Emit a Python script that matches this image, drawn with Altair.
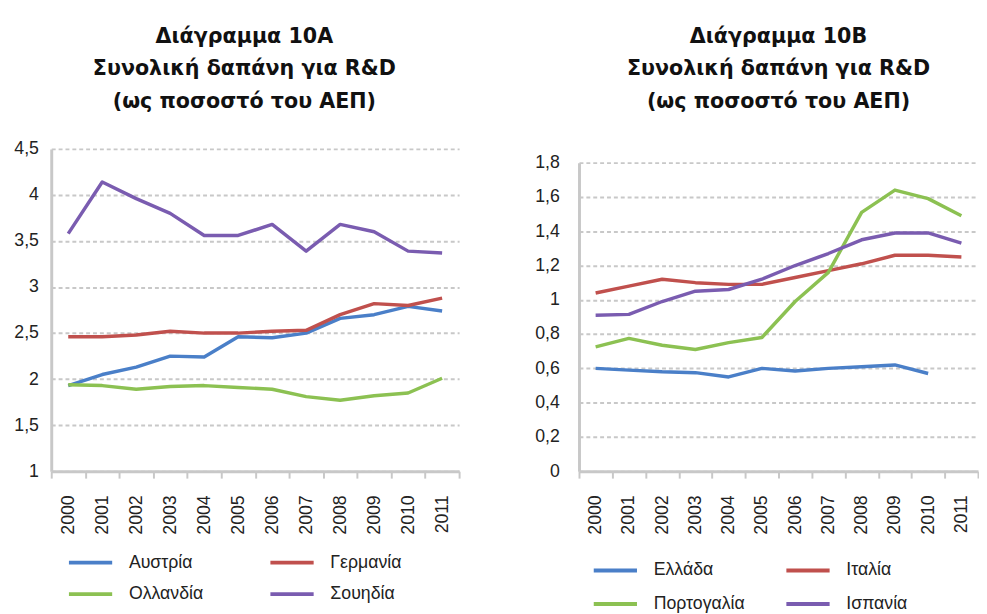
import altair as alt
import pandas as pd

years = [str(y) for y in range(2000, 2012)]

# Chart 10A
austria = [1.93, 2.05, 2.13, 2.25, 2.24, 2.46, 2.45, 2.50, 2.66, 2.70, 2.79, 2.74]
germany = [2.46, 2.46, 2.48, 2.52, 2.50, 2.50, 2.52, 2.53, 2.70, 2.82, 2.80, 2.88]
netherlands = [1.94, 1.93, 1.89, 1.92, 1.93, 1.91, 1.89, 1.81, 1.77, 1.82, 1.85, 2.01]
sweden = [3.58, 4.14, 3.96, 3.80, 3.56, 3.56, 3.68, 3.39, 3.68, 3.60, 3.39, 3.37]
names_a = ["Αυστρία", "Γερμανία", "Ολλανδία", "Σουηδία"]

# Chart 10B
greece = [0.60, 0.59, 0.58, 0.575, 0.55, 0.60, 0.585, 0.60, 0.61, 0.62, 0.57, None]
italy = [1.04, 1.08, 1.12, 1.10, 1.09, 1.09, 1.13, 1.17, 1.21, 1.26, 1.26, 1.25]
portugal = [0.725, 0.775, 0.735, 0.71, 0.75, 0.78, 0.99, 1.16, 1.51, 1.64, 1.59, 1.49]
spain = [0.91, 0.915, 0.99, 1.05, 1.06, 1.12, 1.20, 1.27, 1.35, 1.39, 1.39, 1.33]
names_b = ["Ελλάδα", "Ιταλία", "Πορτογαλία", "Ισπανία"]

colors = ["#4a7fc8", "#c0504d", "#8cc152", "#7a5cb0"]

def long_df(series, names):
    rows = []
    for name, vals in zip(names, series):
        for yr, v in zip(years, vals):
            if v is not None:
                rows.append({"year": yr, "value": v, "country": name})
    return pd.DataFrame(rows)

df_a = long_df([austria, germany, netherlands, sweden], names_a)
df_b = long_df([greece, italy, portugal, spain], names_b)

FONT = "Liberation Sans"
label_expr = "replace(format(datum.value, '.1~f'), '.', ',')"
H = 328

def panel(df, names, title_lines, ydomain, ystep, width, ytop, title_dx, title_off,
          ylabel_pad, legend_x, legend_y, col_pad, row_pad):
    ticks = []
    v = ydomain[0]
    while v <= ydomain[1] + 1e-9:
        ticks.append(round(v, 2))
        v += ystep
    return alt.Chart(df).mark_line(strokeWidth=3.5, strokeJoin="round").encode(
        x=alt.X("year:O", sort=years,
                scale=alt.Scale(type="band", paddingInner=0, paddingOuter=0),
                axis=alt.Axis(title=None, labelAngle=-90, tickBand="extent",
                              labelFont=FONT, labelFontSize=18, labelColor="#222",
                              labelPadding=17, tickSize=7, tickColor="#c8c8c8",
                              tickWidth=2, domainColor="#c8c8c8", domainWidth=3,
                              grid=False, labelBaseline="middle")),
        y=alt.Y("value:Q",
                scale=alt.Scale(domain=ydomain, nice=False, zero=False,
                                range=[H, ytop]),
                axis=alt.Axis(title=None, values=ticks, labelExpr=label_expr,
                              labelFont=FONT, labelFontSize=18, labelColor="#222",
                              labelPadding=ylabel_pad, ticks=False,
                              domainColor="#c8c8c8", domainWidth=3,
                              grid=True, gridColor="#c8c8c8", gridWidth=2,
                              gridDash=[4, 3])),
        color=alt.Color("country:N", sort=names,
                        scale=alt.Scale(domain=names, range=colors),
                        legend=alt.Legend(title=None, orient="none",
                                          legendX=legend_x, legendY=legend_y,
                                          columns=2, direction="horizontal",
                                          symbolType="stroke", symbolSize=1936,
                                          symbolStrokeWidth=4, clipHeight=22,
                                          labelFont=FONT, labelFontSize=18,
                                          labelColor="#222", labelOffset=15,
                                          columnPadding=col_pad, rowPadding=row_pad)),
    ).properties(
        width=width, height=H,
        title=alt.TitleParams(text=title_lines, font="DejaVu Sans",
                              fontSize=21, fontWeight="bold", color="#111",
                              lineHeight=33, offset=title_off, anchor="middle",
                              dx=title_dx),
    )

chart_a = panel(df_a, names_a,
                ["Διάγραμμα 10Α", "Συνολική δαπάνη για R&D", "(ως ποσοστό του ΑΕΠ)"],
                [1, 4.5], 0.5, 415, 0, -11, 29, 13, 16, 410, 66, 10)
chart_b = panel(df_b, names_b,
                ["Διάγραμμα 10Β", "Συνολική δαπάνη για R&D", "(ως ποσοστό του ΑΕΠ)"],
                [0, 1.8], 0.2, 406, 14, 0, 38, 20, 13, 418, 40, 12)

chart = alt.hconcat(chart_a, chart_b, spacing=75).resolve_scale(
    color="independent"
).configure_view(stroke=None).properties(
    padding={"left": 5, "top": 13, "right": 0, "bottom": 0}
)

chart.save("out.html", embed_options={"renderer": "svg", "actions": False})
